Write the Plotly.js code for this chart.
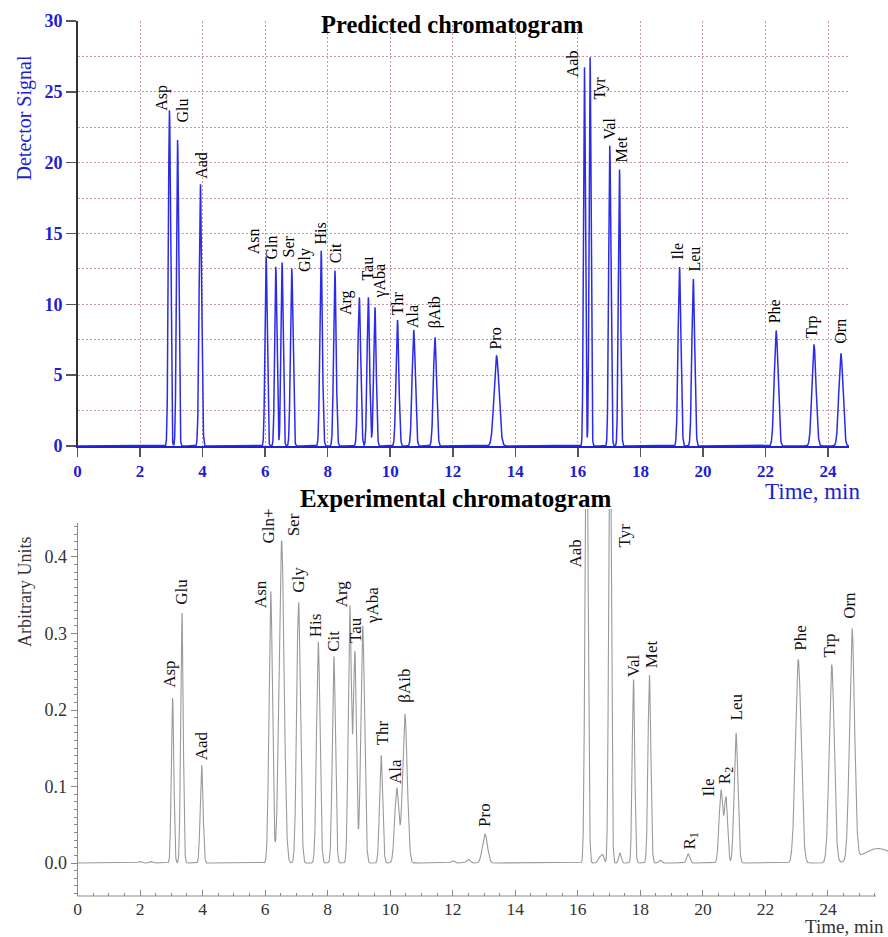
<!DOCTYPE html>
<html><head><meta charset="utf-8">
<script src="https://cdn.plot.ly/plotly-3.0.1.min.js"></script>
<style>html,body{margin:0;padding:0;background:#fff}#chart{width:888px;height:937px}</style>
</head><body><div id="chart"></div>
<script>
// ---------- Predicted chromatogram (top) ----------
const predNames = ['Asp','Glu','Aad','Asn','Gln','Ser','Gly','His','Cit','Arg','Tau','γAba','Thr','Ala','βAib','Pro','Aab','Tyr','Val','Met','Ile','Leu','Phe','Trp','Orn'];
const predTimes = [2.94,3.20,3.93,6.03,6.34,6.54,6.85,7.79,8.23,9.01,9.30,9.51,10.23,10.75,11.43,13.40,16.21,16.39,17.02,17.33,19.25,19.69,22.34,23.55,24.41];
const predHeights = [23.7,21.6,18.5,13.4,12.65,12.96,12.54,13.8,12.4,10.5,10.5,9.8,8.9,8.2,7.67,6.35,26.8,27.5,21.2,19.55,12.65,11.8,8.14,7.13,6.54];
const predWidths = [0.035,0.035,0.04,0.035,0.035,0.035,0.04,0.04,0.04,0.045,0.04,0.04,0.045,0.05,0.05,0.08,0.03,0.03,0.035,0.035,0.045,0.045,0.06,0.065,0.065];

// ---------- Experimental chromatogram (bottom) ----------
const expNames = ['Asp','Glu','Aad','Asn','Gln+','Ser','Gly','His','Cit','Arg','Tau','γAba','Thr','Ala','βAib','Pro','Aab','Tyr','Val','Met','R<sub>1</sub>','Ile','R<sub>2</sub>','Leu','Phe','Trp','Orn'];
const expTimes = [3.04,3.34,3.97,6.18,6.50,6.55,7.07,7.70,8.20,8.71,8.87,9.12,9.71,10.21,10.47,13.03,16.28,17.03,17.78,18.29,19.53,20.58,20.74,21.06,23.05,24.12,24.77];
const expHeights = [0.216,0.327,0.128,0.355,0.21,0.235,0.341,0.289,0.270,0.335,0.275,0.31,0.141,0.098,0.195,0.038,0.70,0.65,0.240,0.246,0.012,0.095,0.084,0.170,0.266,0.259,0.302];
const expWidths = [0.04,0.04,0.045,0.055,0.075,0.075,0.06,0.055,0.05,0.05,0.05,0.06,0.05,0.065,0.075,0.08,0.045,0.04,0.04,0.045,0.05,0.06,0.05,0.06,0.09,0.08,0.08];
// small unlabelled features / baseline drift
const expMinorTimes = [2.0,2.35,12.0,12.5,16.7,16.8,17.35,18.63,25.6];
const expMinorHeights = [0.002,0.002,0.003,0.005,0.008,0.01,0.013,0.004,0.019];
const expMinorWidths = [0.05,0.05,0.05,0.06,0.05,0.04,0.04,0.04,0.5];

// tick values
const predYTicks = [0,5,10,15,20,25,30];
const expYTicks = [0,0.1,0.2,0.3,0.4];

// ---------- label placement (pixel nudges) ----------
const predLabelShift = [[-7,0],[4,17],[1,5],[-13,2],[-4,7],[6,5],[14,-4],[-1,6],[0,7],[-14,-18],[-1,17],[5,9],[0,5],[-1,2],[0,9],[-2,6],[-12,-11],[9.5,-43],[0,6],[2,7],[-2,7],[1,7],[-1.5,7],[-1.5,7],[0,10]];
const expLabelShift = [[-3,10],[0,8],[0,5],[-10,-17],[-12,15],[11,18],[0,9],[-2,5],[0,5],[-7.5,-2],[0,8],[10,2],[1.5,10],[-2,4],[0,11],[0,7],[-12,-59],[13.5,-39],[0,2],[2,7],[3,4],[-12.5,-7],[0,12],[0,12],[2,9],[-2,7],[-2,9]];

function peakSum(t, T, H, W) {
  let s = 0;
  for (let i = 0; i < T.length; i++) {
    const d = (t - T[i]) / W[i];
    if (Math.abs(d) < 12) s += H[i] * Math.exp(-0.5 * d * d);
  }
  return s;
}
function predAt(t) { return peakSum(t, predTimes, predHeights, predWidths); }
function expAt(t) { return peakSum(t, expTimes, expHeights, expWidths) + peakSum(t, expMinorTimes, expMinorHeights, expMinorWidths); }

const X1MAX = 24.67, X2MAX = 25.92, Y2MIN = -0.0431, Y2MAX = 0.4627;
const step = 0.004;
const px = [], py = [], ex = [], ey = [];
for (let t = 0; t <= X1MAX + 1e-9; t += step) { px.push(+t.toFixed(4)); py.push(predAt(t)); }
for (let t = 0; t <= X2MAX + 1e-9; t += step) { ex.push(+t.toFixed(4)); ey.push(expAt(t)); }

const SERIF = 'Liberation Serif, Times New Roman, serif';
const BLUE = '#1e1ed2';
const GRID = '#c29ca8';
const GRIDDASH = '2px,2px';

const annotations = [];
predNames.forEach((n, i) => {
  annotations.push({
    xref: 'x', yref: 'y', x: predTimes[i], y: Math.min(predAt(predTimes[i]), 30),
    text: n, showarrow: false, textangle: -90, xanchor: 'center', yanchor: 'bottom',
    xshift: predLabelShift[i][0], yshift: predLabelShift[i][1],
    borderpad: 0, borderwidth: 0,
    font: {family: SERIF, size: 16, color: '#000'}
  });
});
expNames.forEach((n, i) => {
  annotations.push({
    xref: 'x2', yref: 'y2', x: expTimes[i], y: Math.min(expAt(expTimes[i]), Y2MAX),
    text: n, showarrow: false, textangle: -90, xanchor: 'center', yanchor: 'bottom',
    xshift: expLabelShift[i][0], yshift: expLabelShift[i][1],
    borderpad: 0, borderwidth: 0,
    font: {family: SERIF, size: 17, color: '#111'}
  });
});
// titles
annotations.push({xref:'paper', yref:'paper', x: 451.5/888, y: 1-24/937, text:'Predicted chromatogram', showarrow:false,
  xanchor:'center', yanchor:'middle', font:{family:SERIF, size:24.5, color:'#000', weight:'bold'}});
annotations.push({xref:'paper', yref:'paper', x: 455/888, y: 1-498/937, text:'Experimental chromatogram', showarrow:false,
  xanchor:'center', yanchor:'middle', font:{family:SERIF, size:25, color:'#000', weight:'bold'}});
annotations.push({xref:'paper', yref:'paper', x: 813/888, y: 1-491/937, text:'Time, min', showarrow:false,
  xanchor:'center', yanchor:'middle', font:{family:SERIF, size:23, color:BLUE}});
annotations.push({xref:'paper', yref:'paper', x: 844/888, y: 1-926.5/937, text:'Time, min', showarrow:false,
  xanchor:'center', yanchor:'middle', font:{family:SERIF, size:19, color:'#333'}});
annotations.push({xref:'paper', yref:'paper', x: 24/888, y: 1-118.5/937, text:'Detector Signal', showarrow:false, textangle:-90,
  xanchor:'center', yanchor:'middle', font:{family:SERIF, size:20, color:BLUE}});
annotations.push({xref:'paper', yref:'paper', x: 25/888, y: 1-592/937, text:'Arbitrary Units', showarrow:false, textangle:-90,
  xanchor:'center', yanchor:'middle', font:{family:SERIF, size:18, color:'#333'}});

const minorY2 = [];
for (let k = -4; k <= 44; k++) { if (k % 10 !== 0) minorY2.push(k / 100); }

const traces = [
  {x: px, y: py, xaxis: 'x', yaxis: 'y', type: 'scatter', mode: 'lines', line: {color: '#2b2bea', width: 1.5}, hoverinfo: 'skip'},
  {x: ex, y: ey, xaxis: 'x2', yaxis: 'y2', type: 'scatter', mode: 'lines', line: {color: '#9a9a9a', width: 1.1}, hoverinfo: 'skip'}
];

const layout = {
  width: 888, height: 937,
  margin: {l: 0, r: 0, t: 0, b: 0},
  paper_bgcolor: '#fff', plot_bgcolor: 'rgba(0,0,0,0)',
  showlegend: false,
  font: {family: SERIF},
  xaxis: {
    domain: [77.5/888, 849/888], range: [0, X1MAX], anchor: 'y',
    tick0: 0, dtick: 2, showgrid: true, gridcolor: GRID, griddash: GRIDDASH, gridwidth: 1,
    zeroline: false, showline: true, linecolor: '#2020d8', linewidth: 1.5,
    ticks: 'outside', ticklen: 9, tickwidth: 1.5, tickcolor: '#555',
    tickfont: {family: SERIF, size: 17, color: BLUE, weight: 'bold'}, fixedrange: true
  },
  yaxis: {
    domain: [1-446/937, 1-21/937], range: [0, 30], anchor: 'x',
    tickmode: 'array', tickvals: predYTicks,
    showgrid: true, gridcolor: GRID, griddash: GRIDDASH, gridwidth: 1,
    minor: {dtick: 2.5, showgrid: true, gridcolor: GRID, griddash: GRIDDASH, gridwidth: 1, ticks: ''},
    zeroline: false, showline: true, linecolor: '#333', linewidth: 1.5,
    ticks: 'outside', ticklen: 10, tickwidth: 1.5, tickcolor: '#555',
    tickfont: {family: SERIF, size: 18, color: BLUE, weight: 'bold'}, fixedrange: true
  },
  xaxis2: {
    domain: [77.5/888, 1], range: [0, X2MAX], anchor: 'y2',
    tick0: 0, dtick: 2, showgrid: false, zeroline: false, showline: false,
    ticks: 'inside', ticklen: 6, tickcolor: '#888', tickwidth: 1,
    minor: {dtick: 0.5, ticks: 'inside', ticklen: 3, tickcolor: '#888', tickwidth: 1, showgrid: false},
    tickfont: {family: SERIF, size: 17.5, color: '#333'}, fixedrange: true
  },
  yaxis2: {
    domain: [1-896/937, 1-509/937], range: [Y2MIN, Y2MAX], anchor: 'x2',
    tickmode: 'array', tickvals: expYTicks, ticktext: expYTicks.map(v => v.toFixed(1)),
    showgrid: false, zeroline: false, showline: false,
    ticks: 'outside', ticklen: 6, tickcolor: '#888', tickwidth: 1,
    minor: {tickmode: 'array', tickvals: minorY2, ticks: 'outside', ticklen: 3, tickcolor: '#888', tickwidth: 1, showgrid: false},
    tickfont: {family: SERIF, size: 18, color: '#333'}, fixedrange: true
  },
  shapes: [
    {type: 'line', xref: 'paper', yref: 'paper', x0: 77.5/888, x1: 77.5/888, y0: 1-896/937, y1: 1-523/937, line: {color: '#888', width: 1}},
    {type: 'line', xref: 'paper', yref: 'paper', x0: 77.5/888, x1: 876/888, y0: 1-896/937, y1: 1-896/937, line: {color: '#888', width: 1}}
  ],
  annotations: annotations
};

Plotly.newPlot('chart', traces, layout, {staticPlot: true, displayModeBar: false});
</script>
</body></html>
